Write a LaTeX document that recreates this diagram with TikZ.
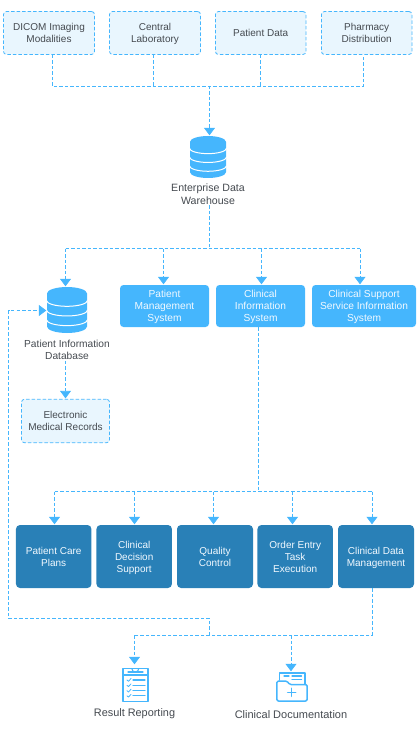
\documentclass[tikz,border=0pt]{standalone}
\usepackage{fontspec}
\setmainfont{Liberation Sans}
\usetikzlibrary{arrows.meta,positioning,calc}
\definecolor{lineblue}{HTML}{45B6FD}
\definecolor{paleblue}{HTML}{E9F6FE}
\definecolor{deepblue}{HTML}{2980B7}
\definecolor{inktext}{HTML}{454A50}
\definecolor{softwhite}{HTML}{F2F9FF}
\newcommand{\bt}[1]{\raisebox{-0.8pt}[\height][\depth]{\begin{tabular}{@{}c@{}}#1\end{tabular}}}
\newcommand{\mt}[1]{\raisebox{-2pt}[\height][\depth]{\begin{tabular}{@{}c@{}}#1\end{tabular}}}
\tikzset{
  x=1pt,y=-1pt,
  lab/.style={font=\fontsize{10.2}{12}\selectfont,align=center,text=inktext,inner sep=1pt},
  srcbox/.style={draw=lineblue,dash pattern=on 3.5pt off 2pt,line width=0.8pt,fill=paleblue,rounded corners=3pt,
    font=\fontsize{10}{12}\selectfont,text=inktext,inner sep=0pt},
  sysbox/.style={fill=lineblue,rounded corners=3.5pt,font=\fontsize{10.2}{12}\selectfont,text=softwhite,inner sep=0pt},
  modbox/.style={fill=deepblue,rounded corners=4pt,font=\fontsize{10}{12}\selectfont,text=softwhite,inner sep=0pt},
  iconbox/.style={inner sep=0pt,draw=none},
  wire/.style={draw=lineblue,line width=0.8pt,dash pattern=on 3.5pt off 2pt},
  arr/.style={wire,-{Triangle[width=11pt,length=7.5pt,fill=lineblue]},shorten >=0.5pt},
  iconline/.style={draw=lineblue,line width=1.1pt,line cap=round,line join=round},
}
\newcommand{\dbicon}[1]{%
  \begin{scope}[shift={(#1.center)},xscale=\dbw,yscale=-\dbh]
    \fill[lineblue] (-1,.72) -- (-1,-.72) arc[start angle=180,end angle=360,x radius=1,y radius=.28]
      -- (1,.72) arc[start angle=0,end angle=180,x radius=1,y radius=.28] -- cycle;
    \foreach \yy in {.42,0,-.42}
      \draw[white,line width=1pt] (-1.03,\yy) arc[start angle=180,end angle=360,x radius=1.03,y radius=.26];
  \end{scope}}
\begin{document}
\begin{tikzpicture}
\useasboundingbox (0,0) rectangle (419,730);
% sources
\node[srcbox,minimum width=91pt,minimum height=43pt] (dicom) at (49,33) {\bt{DICOM Imaging\\Modalities}};
\node[srcbox,minimum width=91pt,minimum height=43pt] (lab) at (155,33) {\bt{Central\\Laboratory}};
\node[srcbox,minimum width=90.5pt,minimum height=43pt] (pdata) at (260.7,33) {\bt{Patient Data}};
\node[srcbox,minimum width=90.5pt,minimum height=43pt] (pharm) at (366.7,33) {\bt{Pharmacy\\Distribution}};
% warehouse
\node[iconbox,minimum width=36pt,minimum height=42pt] (wh) at (208,157) {};
\def\dbw{18}\def\dbh{21}\dbicon{wh}
\node[lab,font=\fontsize{10.6}{12.6}\selectfont] (whl) at (208,194) {Enterprise Data\\Warehouse};
% systems
\node[sysbox,minimum width=89pt,minimum height=42pt] (pms) at (164.5,306) {\bt{Patient\\Management\\System}};
\node[sysbox,minimum width=89pt,minimum height=42pt] (cis) at (260.5,306) {\bt{Clinical\\Information\\System}};
\node[sysbox,minimum width=104pt,minimum height=42pt] (css) at (364,306) {\bt{Clinical Support\\Service Information\\System}};
% patient db
\node[iconbox,minimum width=40pt,minimum height=46pt] (pdb) at (67,310) {};
\def\dbw{20}\def\dbh{23}\dbicon{pdb}
\node[lab] (pdbl) at (67,350) {Patient Information\\Database};
\node[srcbox,minimum width=88pt,minimum height=43.5pt] (emr) at (65.5,421) {\bt{Electronic\\Medical Records}};
% modules
\node[modbox,minimum width=75.5pt,minimum height=63pt] (care) at (53.7,556.5) {\mt{Patient Care\\Plans}};
\node[modbox,minimum width=75.5pt,minimum height=63pt] (cds) at (134.2,556.5) {\mt{Clinical\\Decision\\Support}};
\node[modbox,minimum width=76pt,minimum height=63pt] (qc) at (215,556.5) {\mt{Quality\\Control}};
\node[modbox,minimum width=75.5pt,minimum height=63pt] (order) at (295.2,556.5) {\mt{Order Entry\\Task\\Execution}};
\node[modbox,minimum width=76pt,minimum height=63pt] (cdm) at (376,556.5) {\mt{Clinical Data\\Management}};
% output icons
\node[iconbox,minimum width=27pt,minimum height=37pt] (clip) at (135.5,683.5) {};
\draw[iconline] (123,668.5) rectangle (148,701.5);
\draw[iconline] (131.8,668.5) arc[start angle=180,end angle=0,radius=3.5];
\draw[iconline] (123,675) -- (148,675);
\draw[iconline] (128,672) -- (143,672);
\foreach \yy in {680,685.3,690.7,695.8}{
  \draw[iconline,line width=0.8pt] (127,\yy) -- (128.5,\yy+1.3) -- (131,\yy-1.5);
  \draw[iconline] (133,\yy) -- (145,\yy);
}
\node[iconbox,minimum width=32pt,minimum height=30pt] (fold) at (292,687) {};
\draw[iconline,line width=1.5pt] (279.5,680) -- (279.5,673) -- (305,673) -- (305,684);
\draw[iconline,line width=1.5pt,rounded corners=1.5pt] (276.8,681) -- (287,681) -- (289.5,684.5) -- (307.2,684.5) -- (307.2,701) -- (276.8,701) -- cycle;
\draw[iconline] (284,676) -- (289,676) (292,676) -- (301.5,676) (292,679.5) -- (301.5,679.5);
\draw[iconline,line width=1.5pt] (287.7,692.3) -- (295.7,692.3) (291.7,688.3) -- (291.7,696.3);
\node[lab,font=\fontsize{10.9}{13}\selectfont] (rr) at (134.5,713.3) {Result Reporting};
\node[lab,font=\fontsize{11}{13}\selectfont] (cd) at (291,714.3) {Clinical Documentation};
% junctions
\coordinate (b1) at (209.5,86);
\coordinate (b1l) at (52,86);
\coordinate (b1a) at (153.5,86);
\coordinate (b1b) at (260.5,86);
\coordinate (b1r) at (363.5,86);
\coordinate (b2) at (209.5,248.5);
\coordinate (b2a) at (65.5,248.5);
\coordinate (b2b) at (163.5,248.5);
\coordinate (b2c) at (261.5,248.5);
\coordinate (b2d) at (360,248.5);
\coordinate (b3) at (258.5,491.5);
\coordinate (b3a) at (54.5,491.5);
\coordinate (b3b) at (134.5,491.5);
\coordinate (b3c) at (213.5,491.5);
\coordinate (b3d) at (292.5,491.5);
\coordinate (b3e) at (372,491.5);
\coordinate (b4) at (372,635);
\coordinate (b4a) at (134.5,635);
\coordinate (b4b) at (291,635);
\coordinate (b4c) at (209.5,635);
\coordinate (fb1) at (209.5,618.5);
\coordinate (fb2) at (8.5,618.5);
\coordinate (fb3) at (8.5,310.5);
% connectors
\draw[wire] (b1l |- dicom.south) -- (b1l) -- (b1r) -- (b1r |- pharm.south);
\draw[wire] (b1a |- lab.south) -- (b1a);
\draw[wire] (b1b |- pdata.south) -- (b1b);
\draw[arr] (b1) -- (b1 |- wh.north);
\draw[wire] (b2 |- whl.south) -- (b2);
\draw[wire] (b2a) -- (b2d);
\draw[arr] (b2a) -- (b2a |- pdb.north);
\draw[arr] (b2b) -- (b2b |- pms.north);
\draw[arr] (b2c) -- (b2c |- cis.north);
\draw[arr] (b2d) -- (b2d |- css.north);
\draw[arr] (pdbl.south -| emr.north) -- (emr.north);
\draw[wire] (b3 |- cis.south) -- (b3);
\draw[wire] (b3a) -- (b3e);
\draw[arr] (b3a) -- (b3a |- care.north);
\draw[arr] (b3b) -- (b3b |- cds.north);
\draw[arr] (b3c) -- (b3c |- qc.north);
\draw[arr] (b3d) -- (b3d |- order.north);
\draw[arr] (b3e) -- (b3e |- cdm.north);
\draw[wire] (b4 |- cdm.south) -- (b4) -- (b4a);
\draw[arr] (b4a) -- (b4a |- clip.north);
\draw[arr] (b4b) -- (b4b |- fold.north);
\draw[arr] (b4c) -- (fb1) -- (fb2) -- (fb3) -- (pdb.west |- fb3);
\end{tikzpicture}
\end{document}
